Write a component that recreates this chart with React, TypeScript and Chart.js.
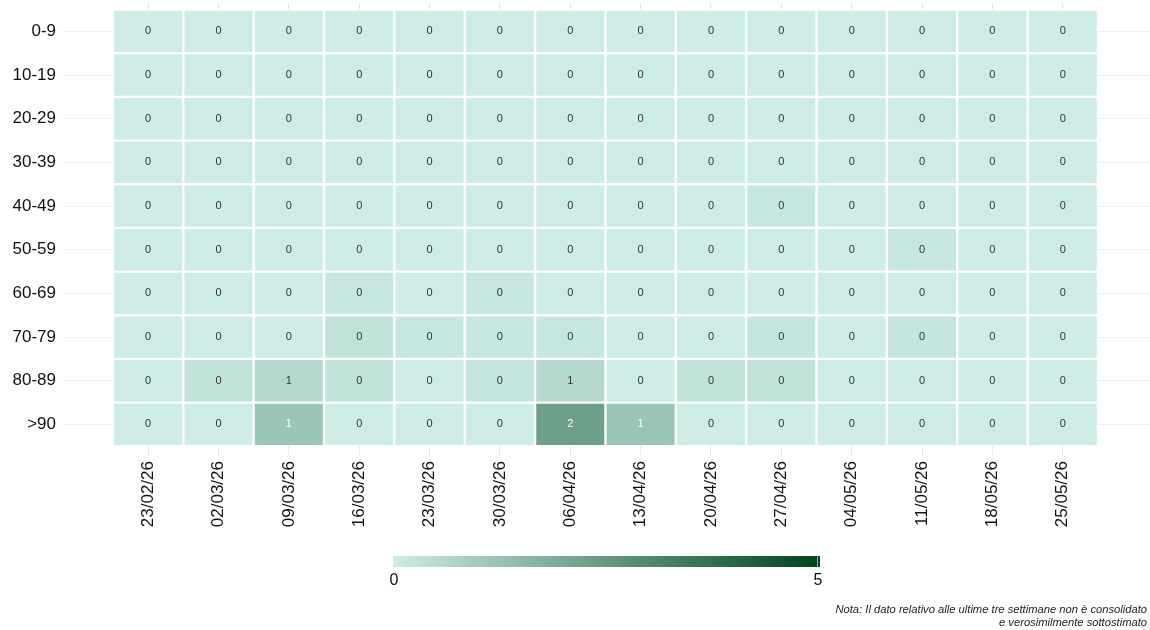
import React, { useEffect, useRef } from "react";
import { Chart, registerables } from "chart.js";

Chart.register(...registerables);

const dates = ["23/02/26", "02/03/26", "09/03/26", "16/03/26", "23/03/26", "30/03/26", "06/04/26", "13/04/26", "20/04/26", "27/04/26", "04/05/26", "11/05/26", "18/05/26", "25/05/26"];
const ageGroups = ["0-9", "10-19", "20-29", "30-39", "40-49", "50-59", "60-69", "70-79", "80-89", ">90"];

const v0_9 = [0, 0, 0, 0, 0, 0, 0, 0, 0, 0, 0, 0, 0, 0];
const v10_19 = [0, 0, 0, 0, 0, 0, 0, 0, 0, 0, 0, 0, 0, 0];
const v20_29 = [0, 0, 0, 0, 0, 0, 0, 0, 0, 0, 0, 0, 0, 0];
const v30_39 = [0, 0, 0, 0, 0, 0, 0, 0, 0, 0, 0, 0, 0, 0];
const v40_49 = [0, 0, 0, 0, 0, 0, 0, 0, 0, 0.15, 0, 0, 0, 0];
const v50_59 = [0, 0, 0, 0, 0, 0, 0, 0, 0, 0, 0, 0.15, 0, 0];
const v60_69 = [0, 0, 0, 0.15, 0, 0.15, 0, 0, 0, 0, 0, 0, 0, 0];
const v70_79 = [0, 0, 0, 0.3, 0.15, 0.15, 0.15, 0, 0, 0.2, 0, 0.2, 0, 0];
const v80_89 = [0, 0.3, 0.6, 0.3, 0, 0.2, 0.6, 0, 0.3, 0.3, 0, 0, 0, 0];
const v90 = [0, 0, 1.2, 0, 0, 0, 2.3, 1.2, 0, 0, 0, 0, 0, 0];

const rowValues = [v0_9, v10_19, v20_29, v30_39, v40_49, v50_59, v60_69, v70_79, v80_89, v90];

const scaleMin = 0;
const scaleMax = 5;
const lowColor = [204, 236, 229];
const highColor = [0, 68, 27];

function colorFor(v: number): string {
  const t = Math.max(0, Math.min(1, (v - scaleMin) / (scaleMax - scaleMin)));
  const c = lowColor.map((lc, k) => Math.round(lc + (highColor[k] - lc) * t));
  return `rgb(${c[0]},${c[1]},${c[2]})`;
}

const FONT = "'Liberation Sans', Arial, sans-serif";

const cellLabels = {
  id: "cellLabels",
  afterDatasetsDraw(chart: any) {
    const ctx = chart.ctx;
    ctx.save();
    ctx.font = `11px ${FONT}`;
    ctx.textAlign = "center";
    ctx.textBaseline = "middle";
    chart.data.datasets.forEach((ds: any, i: number) => {
      const meta = chart.getDatasetMeta(i);
      meta.data.forEach((el: any, j: number) => {
        const v = ds.values[j];
        ctx.fillStyle = v > 1 ? "#ffffff" : "#333333";
        ctx.fillText(String(Math.round(v)), el.x, (el.y + el.base) / 2);
      });
    });
    ctx.restore();
  },
};

const colorBar = {
  id: "colorBar",
  afterDraw(chart: any) {
    const ctx = chart.ctx;
    const x0 = 393;
    const x1 = 820;
    const y0 = 556;
    const h = 11;
    ctx.save();
    const g = ctx.createLinearGradient(x0, 0, x1, 0);
    for (let k = 0; k <= 10; k++) {
      g.addColorStop(k / 10, colorFor(scaleMin + ((scaleMax - scaleMin) * k) / 10));
    }
    ctx.fillStyle = g;
    ctx.fillRect(x0, y0, x1 - x0, h);
    ctx.strokeStyle = "rgba(255,255,255,0.6)";
    ctx.lineWidth = 1;
    ctx.beginPath();
    ctx.moveTo(x1 - 2.5, y0);
    ctx.lineTo(x1 - 2.5, y0 + h);
    ctx.stroke();
    ctx.fillStyle = "#111";
    ctx.font = `16px ${FONT}`;
    ctx.textAlign = "center";
    ctx.textBaseline = "middle";
    ctx.fillText(String(scaleMin), x0 + 1, y0 + h + 14);
    ctx.fillText(String(scaleMax), x1 - 2, y0 + h + 14);
    ctx.font = `italic 11.2px ${FONT}`;
    ctx.textAlign = "right";
    ctx.fillStyle = "#222";
    ctx.fillText("Nota: Il dato relativo alle ultime tre settimane non è consolidato", 1147, 610);
    ctx.fillText("e verosimilmente sottostimato", 1147, 623);
    ctx.restore();
  },
};

export default function App() {
  const ref = useRef<HTMLCanvasElement>(null);
  useEffect(() => {
    if (!ref.current) return;
    const datasets = rowValues.map((vals, i) => ({
      label: ageGroups[i],
      values: vals,
      data: vals.map((_, j) => ({ x: j, y: [i - 0.5, i + 0.5] })),
      backgroundColor: vals.map(colorFor),
      borderColor: "#ffffff",
      borderWidth: 1.5,
      borderSkipped: false,
      grouped: false,
      barPercentage: 1,
      categoryPercentage: 1,
    }));
    const chart = new Chart(ref.current, {
      type: "bar",
      data: { datasets: datasets as any },
      options: {
        animation: false,
        responsive: false,
        maintainAspectRatio: false,
        layout: { padding: { top: 3, left: 0, right: 0, bottom: 0 } },
        plugins: { legend: { display: false }, tooltip: { enabled: false } },
        scales: {
          x: {
            type: "linear",
            offset: false,
            min: -1.21,
            max: 14.24,
            afterBuildTicks: (s: any) => {
              s.ticks = dates.map((_, j) => ({ value: j }));
            },
            afterFit: (s: any) => {
              s.height = 175;
              s.paddingLeft = 0;
              s.paddingRight = 0;
            },
            grid: { color: "#e6e6e6", drawTicks: false, offset: false },
            border: { display: false },
            ticks: {
              autoSkip: false,
              maxRotation: 90,
              minRotation: 90,
              padding: 6,
              color: "#111",
              font: { family: FONT, size: 17 },
              callback: (v: any) => dates[v] ?? "",
            },
          },
          y: {
            type: "linear",
            reverse: true,
            min: -0.65,
            max: 9.7,
            afterBuildTicks: (s: any) => {
              s.ticks = ageGroups.map((_, i) => ({ value: i }));
            },
            afterFit: (s: any) => {
              s.width = 63;
              s.paddingTop = 0;
              s.paddingBottom = 0;
            },
            grid: { color: "#efefea", drawTicks: false },
            border: { display: false },
            ticks: {
              padding: 7,
              color: "#111",
              font: { family: FONT, size: 17 },
              callback: (v: any) => ageGroups[v] ?? "",
            },
          },
        },
      },
      plugins: [cellLabels, colorBar],
    });
    return () => chart.destroy();
  }, []);
  return (
    <div style={{ position: "absolute", left: 0, top: 0, width: 1150, height: 630, background: "#fff" }}>
      <canvas ref={ref} width={1150} height={630} style={{ width: 1150, height: 630 }} />
    </div>
  );
}
